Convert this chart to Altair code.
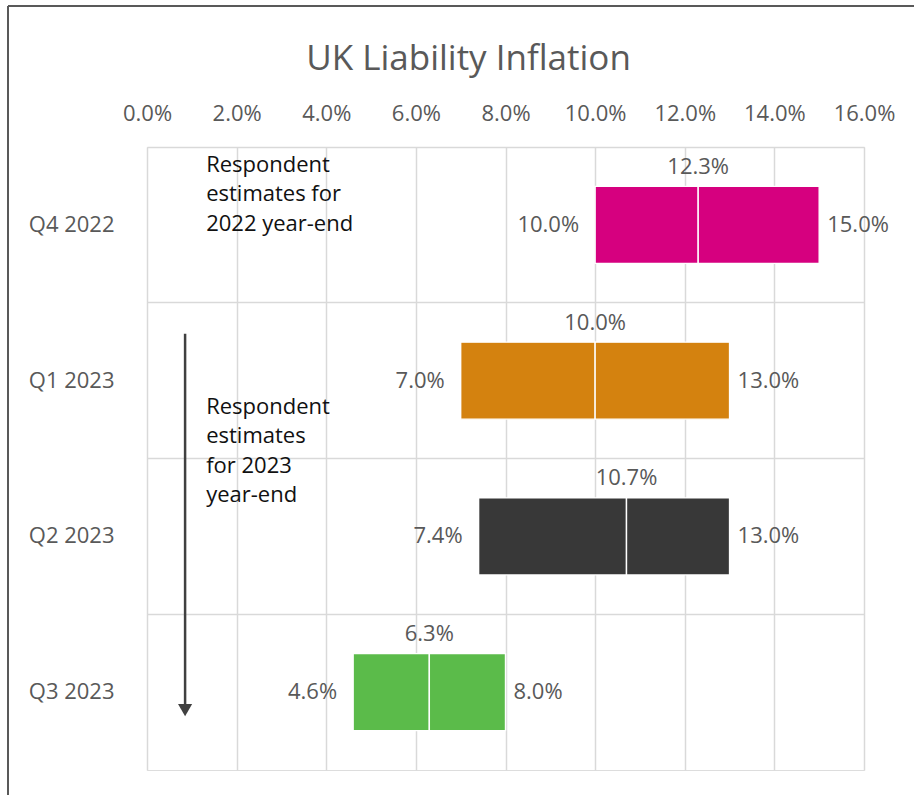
import altair as alt
import pandas as pd

# ---- data ----
periods = ["Q4 2022", "Q1 2023", "Q2 2023", "Q3 2023"]
low = [0.100, 0.070, 0.074, 0.046]
median = [0.123, 0.100, 0.107, 0.063]
high = [0.150, 0.130, 0.130, 0.080]
colors = ["#D6007F", "#D4820F", "#383838", "#5BBB4A"]
x_ticks = [0.0, 0.02, 0.04, 0.06, 0.08, 0.10, 0.12, 0.14, 0.16]
note_2022 = ["Respondent", "estimates for", "2022 year-end"]
note_2023 = ["Respondent", "estimates", "for 2023", "year-end"]
arrow_x = [0.0085]

FONT = "Open Sans"
GREY = "#595959"

df = pd.DataFrame({"period": periods, "low": low, "median": median, "high": high})

W, H = 717, 623

x_scale = alt.Scale(domain=[0, 0.16], nice=False, zero=False)
y_scale = alt.Scale(domain=periods, paddingInner=0, paddingOuter=0)
color_scale = alt.Scale(domain=periods, range=colors)

x_axis = alt.Axis(
    orient="top", values=x_ticks, format=".1%", title=None, domain=False,
    ticks=False, labelPadding=22, labelFontSize=22, labelColor=GREY,
    labelFont=FONT, gridColor="#D9D9D9", gridWidth=1.5,
    labelOverlap=False, labelFlush=False, labelBound=False,
)
y_axis = alt.Axis(
    title=None, domain=False, ticks=False, bandPosition=0,
    labelPadding=33, labelFontSize=22,
    labelColor=GREY, labelFont=FONT, grid=True, gridColor="#D9D9D9",
    gridWidth=1.5,
)

base = alt.Chart(df)

bar_left = base.mark_bar(size=77, stroke="white", strokeWidth=1.4).encode(
    x=alt.X("low:Q", scale=x_scale, axis=x_axis),
    x2="median:Q",
    y=alt.Y("period:N", scale=y_scale, axis=y_axis, sort=periods),
    color=alt.Color("period:N", scale=color_scale, legend=None),
)
bar_right = base.mark_bar(size=77, stroke="white", strokeWidth=1.4).encode(
    x=alt.X("median:Q", scale=x_scale),
    x2="high:Q",
    y=alt.Y("period:N", scale=y_scale, sort=periods),
    color=alt.Color("period:N", scale=color_scale, legend=None),
)

lbl = dict(font=FONT, fontSize=22, color=GREY)
med_text = base.mark_text(baseline="middle", align="center", dy=-58, **lbl).encode(
    x=alt.X("median:Q", scale=x_scale),
    y=alt.Y("period:N", scale=y_scale, sort=periods),
    text=alt.Text("median:Q", format=".1%"),
)
low_text = base.mark_text(baseline="middle", align="right", dx=-16, **lbl).encode(
    x=alt.X("low:Q", scale=x_scale),
    y=alt.Y("period:N", scale=y_scale, sort=periods),
    text=alt.Text("low:Q", format=".1%"),
)
high_text = base.mark_text(baseline="middle", align="left", dx=8, **lbl).encode(
    x=alt.X("high:Q", scale=x_scale),
    y=alt.Y("period:N", scale=y_scale, sort=periods),
    text=alt.Text("high:Q", format=".1%"),
)

note1 = alt.Chart(pd.DataFrame({"period": [periods[0]], "x": [0.0132], "txt": [note_2022]})).mark_text(
    align="left", baseline="top", font=FONT, fontSize=22, color="#111111",
    lineHeight=29.5, dy=-70).encode(
    x=alt.X("x:Q", scale=x_scale),
    y=alt.Y("period:N", scale=y_scale, sort=periods),
    text="txt",
)
note2 = alt.Chart(pd.DataFrame({"period": [periods[1]], "x": [0.0132], "txt": [note_2023]})).mark_text(
    align="left", baseline="top", font=FONT, fontSize=22, color="#111111",
    lineHeight=29.5, dy=16).encode(
    x=alt.X("x:Q", scale=x_scale),
    y=alt.Y("period:N", scale=y_scale, sort=periods),
    text="txt",
)

arrow_df = pd.DataFrame({"x": arrow_x, "start": [periods[1]], "end": [periods[3]]})
arrow_line = alt.Chart(arrow_df).mark_rule(
    color="#404040", strokeWidth=2.5, yOffset=-47, y2Offset=12).encode(
    x=alt.X("x:Q", scale=x_scale),
    y=alt.Y("start:N", scale=y_scale, sort=periods),
    y2="end:N",
)
arrow_head = alt.Chart(arrow_df).mark_point(
    shape="triangle-down", filled=True, size=200, color="#404040",
    opacity=1, yOffset=18).encode(
    x=alt.X("x:Q", scale=x_scale),
    y=alt.Y("end:N", scale=y_scale, sort=periods),
)

# outer chart frame (decoration)
frame_top = alt.Chart(pd.DataFrame({"a": [0]})).mark_rule(
    color="#595959", strokeWidth=2, clip=False).encode(
    x=alt.value(-139), x2=alt.value(W + 60), y=alt.value(-141))
frame_left = alt.Chart(pd.DataFrame({"a": [0]})).mark_rule(
    color="#595959", strokeWidth=2, clip=False).encode(
    x=alt.value(-139), y=alt.value(-141), y2=alt.value(H + 60))

chart = alt.layer(
    bar_left, bar_right, med_text, low_text, high_text, note1, note2,
    arrow_line, arrow_head, frame_top, frame_left,
).properties(
    width=W, height=H,
    title=alt.TitleParams(
        "UK Liability Inflation", fontSize=35, color=GREY, font=FONT,
        fontWeight="normal", anchor="middle", dx=-37, offset=-72,
    ),
    padding={"left": 147, "top": 147, "right": 50, "bottom": 25},
    autosize=alt.AutoSizeParams(type="none"),
).configure_view(
    stroke="#D9D9D9", strokeWidth=1.5,
).configure(background="white")

chart.save("out.html", embed_options={"renderer": "svg", "actions": False})
